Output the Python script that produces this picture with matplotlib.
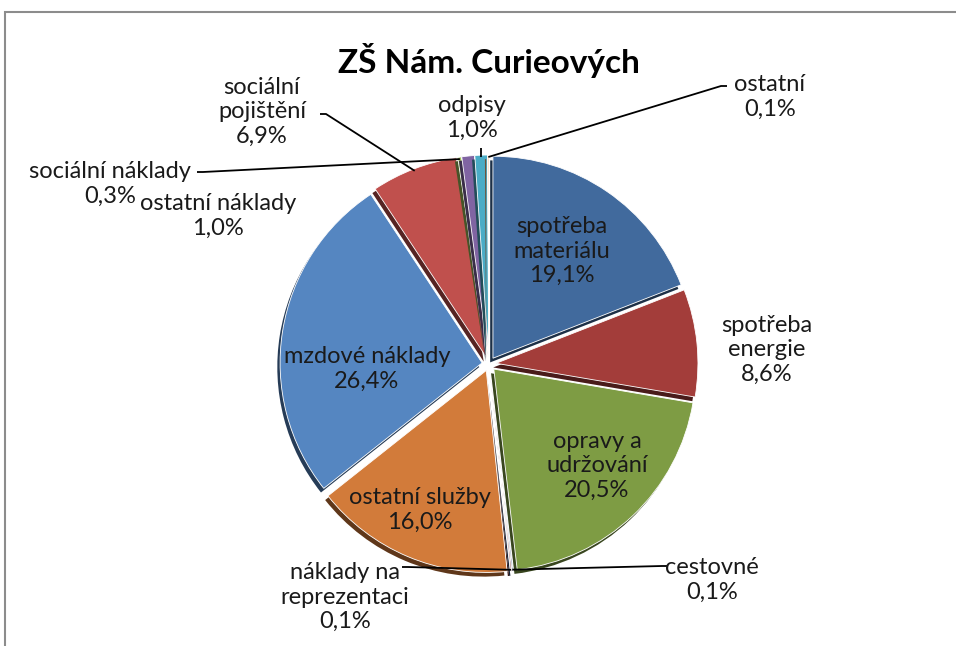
import numpy as np
import matplotlib
matplotlib.use("Agg")
import matplotlib.pyplot as plt
from matplotlib import patheffects as pe
from matplotlib.patches import Rectangle
from matplotlib.colors import to_rgb

plt.rcParams['font.family'] = ['Lato', 'DejaVu Sans']

title = "ZŠ Nám. Curieových"
labels = ["spotřeba\nmateriálu", "spotřeba\nenergie", "opravy a\nudržování", "cestovné",
          "náklady na\nreprezentaci", "ostatní služby", "mzdové náklady", "sociální\npojištění",
          "sociální náklady", "ostatní náklady", "odpisy", "ostatní"]
shares = [19.1, 8.6, 20.5, 0.1, 0.1, 16.0, 26.4, 6.9, 0.3, 1.0, 1.0, 0.1]
colors = ["#416A9D", "#A33D3A", "#7E9C44", "#2F4E78", "#7A3230", "#D27B3A",
          "#5586C1", "#C0504D", "#9BBB59", "#8064A2", "#4BACC6", "#F9B77F"]

W, H = 956, 646
fig = plt.figure(figsize=(W / 100, H / 100), dpi=100)
ax = fig.add_axes([0, 0, 1, 1])

# chart area border
ax.add_patch(Rectangle((5, -20), 980, H - 12 + 20, fill=False, ec="#8C8C8C", lw=1.5, clip_on=False))

# axes are in pixel units, so explode is an offset in pixels here
cx, cy, r = 489, H - 364, 202
expl = 7
wedges, _ = ax.pie(shares, startangle=90, counterclock=False, colors=colors,
                   center=(cx, cy), radius=r, explode=[expl] * len(shares),
                   wedgeprops=dict(edgecolor="white", linewidth=0.6), frame=True)
ax.set_xlim(0, W)
ax.set_ylim(0, H)
ax.set_axis_off()
for w, c in zip(wedges, colors):
    dark = tuple(v * 0.45 for v in to_rgb(c))
    w.set_path_effects([pe.SimplePatchShadow(offset=(-2, -3), shadow_rgbFace=dark, alpha=1),
                        pe.Normal()])

ax.text(cx, H - 60, title, ha="center", va="center", fontsize=24, fontweight="bold")

fs = 17
def pct(v):
    return f"{v:.1f}%".replace(".", ",")

def edge_point(w, frac=1.0):
    mid = np.deg2rad((w.theta1 + w.theta2) / 2)
    x0, y0 = w.center
    return x0 + w.r * frac * np.cos(mid), y0 + w.r * frac * np.sin(mid)

# label anchors in pixel coords (x from left, y from top)
inside = {0: (562, 251), 2: (597, 466), 5: (420, 510), 6: (367, 369)}
outside = {1: (767, 350), 3: (712, 580), 4: (345, 597), 7: (262, 112),
           8: (110, 184), 9: (218, 216), 10: (472, 118), 11: (770, 97)}
# leader line start points (pixel coords) for outside labels
leaders = {3: (668, 566), 4: (402, 567), 7: (320, 114), 8: (197, 172),
           10: (482, 148), 11: (727, 86)}

for i, (lab, v) in enumerate(zip(labels, shares)):
    txt = f"{lab}\n{pct(v)}"
    x, y = inside[i] if i in inside else outside[i]
    ax.text(x, H - y, txt, ha="center", va="center", fontsize=fs,
            linespacing=1.2, color="#1a1a1a")
    if i in leaders:
        sx, sy = leaders[i]
        ex, ey = edge_point(wedges[i], 0.99)
        if i == 10:
            xs, ys = [ex, ex], [H - sy, ey]
        else:
            xs = [sx, sx + (6 if sx < ex else -6), ex]
            ys = [H - sy, H - sy, ey]
        ax.plot(xs, ys, color="black", lw=1.3, solid_capstyle="butt")

fig.savefig("out.png", dpi=100)
